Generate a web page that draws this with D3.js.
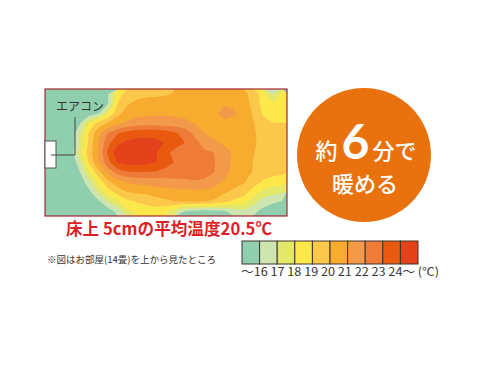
<!DOCTYPE html>
<html><head><meta charset="utf-8">
<script src="https://cdn.jsdelivr.net/npm/d3@7"></script>
<style>body{margin:0;background:#fff}svg{display:block}</style>
</head><body>
<svg id="chart" width="490" height="368"></svg>
<script>
// ---- data ----
const bandEdges = [16, 17, 18, 19, 20, 21, 22, 23, 24];
const bandColors = ["#8fcfae", "#cfe5b0", "#e4e86a", "#fde84c", "#fbc84c", "#f7ab2f", "#f3994a", "#ee7b37", "#e95910", "#e4421a"];
const legendLabels = ["〜16", "17", "18", "19", "20", "21", "22", "23", "24〜"];
const legendUnit = "(℃)";
const heatTitle = "床上 5cmの平均温度20.5℃";
const noteText = "※図はお部屋(14畳)を上から見たところ";
const acLabel = "エアコン";
const badgeLine1 = ["約", "6", "分で"];
const badgeLine2 = "暖める";
const gridCols = 25, gridRows = 13;
// floor temperature (°C), row by row, top of room to bottom, left (air-con wall) to right
const floorTemps = [
  [15.0,15.0,15.0,15.1,15.2,15.4,15.9,18.6,19.4,19.6,19.7,19.8,19.9,20.1,20.3,20.5,20.6,20.6,20.6,20.5,20.3,19.6,18.6,16.8,18.2],
  [15.0,15.0,15.0,15.1,15.2,15.4,15.95,19.0,19.9,20.3,20.5,20.5,20.5,20.5,20.5,20.5,20.5,20.6,20.9,20.8,20.5,19.7,18.7,18.1,18.3],
  [15.0,15.0,15.0,15.1,15.3,15.85,18.0,19.7,20.4,20.7,20.8,20.85,20.85,20.8,20.75,20.7,20.7,20.8,21.3,21.15,20.6,19.9,18.9,18.5,18.6],
  [15.0,15.0,15.1,15.7,18.0,19.4,20.1,20.7,21.2,21.4,21.5,21.5,21.5,21.4,21.2,20.98,20.8,20.7,20.8,20.7,20.5,20.1,19.3,19.02,19.02],
  [15.0,15.0,15.1,16.6,19.02,20.7,22.0,22.9,23.4,23.7,23.8,23.7,23.5,23.1,22.6,21.7,20.95,20.8,20.75,20.7,20.5,20.15,19.6,19.4,19.4],
  [15.0,15.0,15.0,16.8,19.2,21.02,22.7,23.8,24.2,24.25,24.25,24.2,23.95,23.5,22.98,22.3,21.6,21.1,20.85,20.75,20.55,20.15,19.7,19.55,19.5],
  [15.0,15.0,15.0,17.3,19.4,21.02,23.2,24.5,24.8,24.9,24.7,24.05,23.3,22.57,22.45,22.3,22.15,21.98,21.4,20.85,20.45,20.05,19.75,19.6,19.6],
  [15.0,15.0,15.0,16.4,19.1,20.9,22.7,24.1,24.4,24.4,24.3,24.02,23.4,22.9,22.7,22.6,22.45,22.05,21.3,20.85,20.5,19.98,19.7,19.55,19.5],
  [15.0,15.0,15.0,15.8,17.8,19.6,21.3,22.5,22.9,22.98,22.95,22.9,22.7,22.6,22.55,22.5,22.4,22.02,21.3,20.8,20.4,19.95,19.5,19.3,19.2],
  [15.0,15.0,15.0,15.2,16.6,18.3,19.8,20.6,21.1,21.3,21.4,21.5,21.6,21.7,21.8,21.9,21.8,21.4,20.9,20.5,20.1,19.5,18.9,18.6,18.5],
  [15.0,15.0,15.0,15.0,15.7,17.2,18.6,19.5,20.05,20.2,20.3,20.5,20.6,20.7,20.7,20.8,20.8,20.6,20.2,19.8,19.5,18.6,17.8,17.4,17.2],
  [15.0,15.0,15.0,15.0,15.0,15.8,17.02,17.9,18.8,19.1,19.3,19.6,19.8,20.05,20.1,20.2,20.1,19.8,19.3,18.8,18.5,17.5,16.6,16.2,15.95],
  [15.0,15.0,15.0,15.0,15.0,15.0,15.5,16.3,17.8,18.3,18.5,18.5,18.2,17.2,15.95,15.7,15.6,15.7,15.9,16.4,16.8,16.3,15.7,15.4,15.3]
];

// ---- drawing ----
const svg = d3.select("#chart");
const jp = "'Noto Sans CJK JP','Noto Sans',sans-serif";

const x = d3.scaleLinear().domain([0, gridCols]).range([45, 287]);
const y = d3.scaleLinear().domain([0, gridRows]).range([89, 216]);
const color = d3.scaleThreshold().domain(bandEdges).range(bandColors);

const values = floorTemps.flat();
const contours = d3.contours().size([gridCols, gridRows]).thresholds(bandEdges)(values);
const path = d3.geoPath(d3.geoTransform({
  point(px, py) { this.stream.point(x(px), y(py)); }
}));

const heat = svg.append("g");
heat.append("rect").attr("x", x(0)).attr("y", y(0))
  .attr("width", x(gridCols) - x(0)).attr("height", y(gridRows) - y(0))
  .attr("fill", color(d3.min(values)));
heat.selectAll("path.band").data(contours).join("path")
  .attr("class", "band").attr("d", path)
  .attr("fill", d => color(d.value));
heat.append("rect").attr("x", x(0)).attr("y", y(0))
  .attr("width", x(gridCols) - x(0)).attr("height", y(gridRows) - y(0))
  .attr("fill", "none").attr("stroke", "#a3262f").attr("stroke-width", 1.2);

// air conditioner marker
heat.append("rect").attr("x", 45).attr("y", 141).attr("width", 11).attr("height", 27)
  .attr("fill", "#fff").attr("stroke", "#555").attr("stroke-width", 1);
heat.append("path").attr("d", "M75,117V155H51").attr("fill", "none")
  .attr("stroke", "#444").attr("stroke-width", 1);
heat.append("text").attr("x", 56).attr("y", 111).attr("font-family", jp)
  .attr("font-size", 12).attr("fill", "#333").text(acLabel);

// title + note
svg.append("text").attr("x", 66).attr("y", 235).attr("font-family", jp)
  .attr("font-size", 16.5).attr("font-weight", "bold").attr("fill", "#dc1f26")
  .attr("textLength", 206).attr("lengthAdjust", "spacingAndGlyphs").text(heatTitle);
svg.append("text").attr("x", 47).attr("y", 263).attr("font-family", jp)
  .attr("font-size", 9.5).attr("fill", "#333").text(noteText);

// legend
const lx = d3.scaleBand().domain(d3.range(bandColors.length)).range([242, 418]);
svg.append("g").selectAll("rect").data(bandColors).join("rect")
  .attr("x", (d, i) => lx(i)).attr("y", 241).attr("width", lx.bandwidth()).attr("height", 23)
  .attr("fill", d => d).attr("stroke", "#3e342c").attr("stroke-width", 1);
svg.append("text").attr("x", 241).attr("y", 276).attr("font-family", jp)
  .attr("font-size", 11.5).attr("fill", "#333")
  .attr("textLength", 198).attr("lengthAdjust", "spacingAndGlyphs")
  .text(legendLabels.join(" ") + " " + legendUnit);

// badge
svg.append("circle").attr("cx", 364).attr("cy", 155).attr("r", 67).attr("fill", "#e9720e");
const t1 = svg.append("text").attr("x", 366).attr("y", 159).attr("text-anchor", "middle")
  .attr("fill", "#fff").attr("font-family", jp);
t1.append("tspan").attr("font-size", 22).attr("font-weight", 500).text(badgeLine1[0]);
t1.append("tspan").attr("dx", 4).attr("font-size", 48).attr("font-weight", "bold")
  .attr("font-family", "Lato, 'Open Sans', sans-serif").text(badgeLine1[1]);
t1.append("tspan").attr("dx", 3).attr("font-size", 22).attr("font-weight", 500).text(badgeLine1[2]);
svg.append("text").attr("x", 365).attr("y", 192).attr("text-anchor", "middle")
  .attr("fill", "#fff").attr("font-family", jp).attr("font-size", 22).attr("font-weight", 500)
  .text(badgeLine2);
</script>
</body></html>
